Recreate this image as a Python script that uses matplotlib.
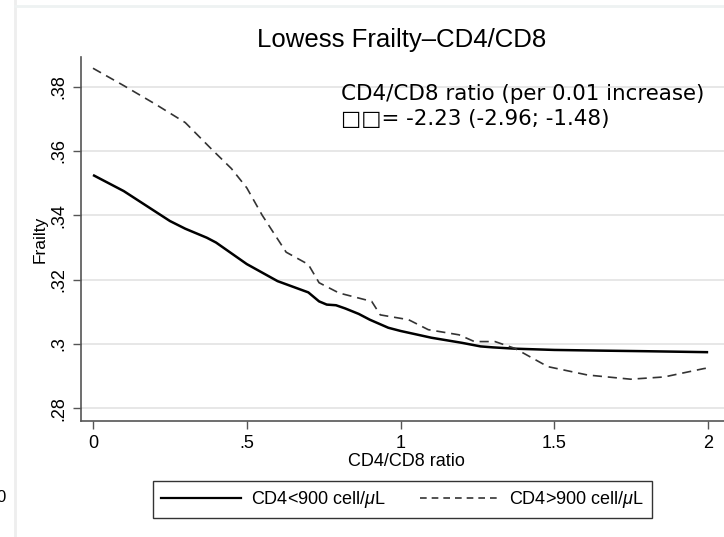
import matplotlib
matplotlib.use("Agg")
import matplotlib.pyplot as plt
from matplotlib.lines import Line2D

# Data
x_low = [0.0, 0.1, 0.2, 0.25, 0.3, 0.37, 0.4, 0.5, 0.6, 0.7, 0.735, 0.76, 0.79, 0.82, 0.864, 0.9, 0.96, 1.0, 1.1, 1.2, 1.26, 1.3, 1.37, 1.4, 1.5, 1.64, 1.8, 2.0]
y_low = [0.3525, 0.3475, 0.3413, 0.3382, 0.3358, 0.3330, 0.3315, 0.3248, 0.3195, 0.3160, 0.3132, 0.3122, 0.3120, 0.3110, 0.3093, 0.3075, 0.3050, 0.3040, 0.3019, 0.3003, 0.2992, 0.2989, 0.2985, 0.2984, 0.2981, 0.2979, 0.2977, 0.2974]

x_high = [0.0, 0.1, 0.2, 0.3, 0.388, 0.45, 0.5, 0.55, 0.628, 0.7, 0.735, 0.8, 0.906, 0.934, 1.026, 1.09, 1.19, 1.24, 1.307, 1.371, 1.479, 1.608, 1.748, 1.857, 1.986, 2.0]
y_high = [0.3857, 0.3803, 0.3747, 0.3688, 0.3603, 0.3545, 0.3485, 0.3400, 0.3285, 0.3247, 0.3190, 0.3158, 0.3132, 0.3090, 0.3075, 0.3044, 0.3028, 0.3007, 0.3007, 0.2986, 0.2929, 0.2903, 0.2890, 0.2897, 0.2923, 0.2925]

x_ticks = [0, 0.5, 1, 1.5, 2]
x_ticklabels = ["0", ".5", "1", "1.5", "2"]
y_ticks = [0.28, 0.30, 0.32, 0.34, 0.36, 0.38]
y_ticklabels = [".28", ".3", ".32", ".34", ".36", ".38"]

labels = [r"CD4<900 cell/$\mu$L", r"CD4>900 cell/$\mu$L"]
title = "Lowess Frailty\u2013CD4/CD8"
note1 = "CD4/CD8 ratio (per 0.01 increase)"
note2 = "\u25a1\u25a1= -2.23 (-2.96; -1.48)"

plt.rcParams['font.family'] = ['Liberation Sans', 'DejaVu Sans']
plt.rcParams['mathtext.fontset'] = 'custom'
plt.rcParams['mathtext.it'] = 'Liberation Sans:italic'

fig = plt.figure(figsize=(7.24, 5.37), dpi=100)
fig.patch.set_facecolor("white")
ax = fig.add_axes([81/724, 1-421/537, 1-81/724 + 0.01, (421-57)/537])

ax.set_xlim(-0.039, 2.075)
ax.set_ylim(0.276, 0.3892)

for yt in y_ticks:
    ax.axhline(yt, color="#e3e3e3", lw=1.2, zorder=0)

ax.plot(x_low, y_low, color="black", lw=1.8, solid_capstyle="butt", label=labels[0])
ax.plot(x_high, y_high, color="#333333", lw=1.2, dashes=(5.5, 3.5), label=labels[1])

ax.set_xticks(x_ticks)
ax.set_xticklabels(x_ticklabels, fontsize=13)
ax.set_yticks(y_ticks)
ax.set_yticklabels(y_ticklabels, fontsize=13, rotation=90, va="center")
ax.tick_params(axis="both", direction="out", length=6, width=1, color="#555555", pad=4)

for s in ["top", "right"]:
    ax.spines[s].set_visible(False)
for s in ["left", "bottom"]:
    ax.spines[s].set_color("#555555")
    ax.spines[s].set_linewidth(1.2)

ax.set_xlabel("CD4/CD8 ratio", fontsize=13, labelpad=1)
ax.set_ylabel("Frailty", fontsize=12.5, labelpad=2)

fig.text(402/724, 1-40/537, title, fontsize=18.5, ha="center", va="center")

fig.text(341/724, 1-94/537, note1, fontsize=15.4, ha="left", va="center", family=["DejaVu Sans"])
fig.text(341/724, 1-119/537, note2, fontsize=15.4, ha="left", va="center", family=["DejaVu Sans"])

handles = [Line2D([], [], color="black", lw=1.6),
           Line2D([], [], color="#333333", lw=1.2, dashes=(4, 3))]
leg = fig.legend(handles, labels, ncol=2, loc="center", bbox_to_anchor=(402.5/724, 1-499.5/537),
                 fontsize=13, frameon=True, fancybox=False, edgecolor="black",
                 handlelength=4.4, columnspacing=1.9, borderpad=0.45, handletextpad=0.55)
leg.get_frame().set_linewidth(1.0)

# light figure framing seen in the reference
fig.add_artist(Line2D([15/724, 15/724], [0, 1], transform=fig.transFigure, color="#eeeeee", lw=2))
fig.add_artist(Line2D([15/724, 1], [1-6/537, 1-6/537], transform=fig.transFigure, color="#eef2f2", lw=2))
fig.text(-4/724, 1-497/537, "0", fontsize=12, ha="left", va="center")

fig.savefig("out.png", dpi=100)
